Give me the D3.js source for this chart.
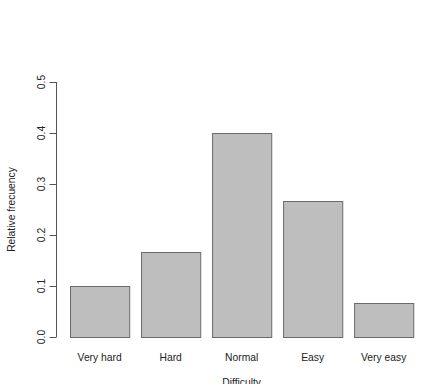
<!DOCTYPE html>
<html><head><meta charset="utf-8">
<script src="https://cdn.jsdelivr.net/npm/d3@7"></script>
<style>body{margin:0;background:#fff}svg{display:block}text{font-family:"Liberation Sans",Arial,sans-serif;fill:#222}</style>
</head><body>
<svg id="c" width="424" height="384"></svg>
<script>
const categories = ["Very hard","Hard","Normal","Easy","Very easy"];
const values = [3/30, 5/30, 12/30, 8/30, 2/30];
const yTicks = [0,0.1,0.2,0.3,0.4,0.5];
const xLabel = "Difficulty";
const yLabel = "Relative frecuency";

const svg = d3.select("#c");
// R barplot: width 1, space 0.2 -> bars from 0.2 to 6.0, xlim expanded 4%
const x = d3.scaleLinear().domain([-0.032, 6.232]).range([56.3, 427]);
const y = d3.scaleLinear().domain([0, 0.5]).range([337, 82]);
const fs = 10.3;

svg.selectAll("rect.bar").data(values).enter().append("rect")
  .attr("x", (d,i)=>x(0.2+i*1.2)+0.5)
  .attr("y", d=>y(d)+0.5)
  .attr("width", (d,i)=>x(1.2+i*1.2)-x(0.2+i*1.2))
  .attr("height", d=>y(0)-y(d))
  .attr("fill","#bebebe").attr("stroke","#6a6a6a").attr("stroke-width",1);

// y axis
const ax = svg.append("g").attr("transform","translate(56.5,0)");
ax.append("line").attr("y1",y(0)).attr("y2",y(0.5)).attr("stroke","#555");
ax.selectAll("line.t").data(yTicks).enter().append("line")
  .attr("x1",0).attr("x2",-7).attr("y1",d=>Math.round(y(d))+0.5).attr("y2",d=>Math.round(y(d))+0.5).attr("stroke","#555");
ax.selectAll("text").data(yTicks).enter().append("text")
  .attr("transform",d=>`translate(-12,${y(d)}) rotate(-90)`)
  .attr("text-anchor","middle").attr("font-size",fs)
  .text(d=>d3.format(".1f")(d));

// category labels
svg.selectAll("text.cat").data(categories).enter().append("text")
  .attr("x",(d,i)=>x(0.7+i*1.2)).attr("y",361)
  .attr("text-anchor","middle").attr("font-size",fs).text(d=>d);

svg.append("text").attr("x",x(3.1)).attr("y",386).attr("text-anchor","middle").attr("font-size",fs).text(xLabel);
svg.append("text").attr("transform",`translate(15,${(y(0)+y(0.5))/2}) rotate(-90)`)
  .attr("text-anchor","middle").attr("font-size",fs).text(yLabel);
</script>
</body></html>
